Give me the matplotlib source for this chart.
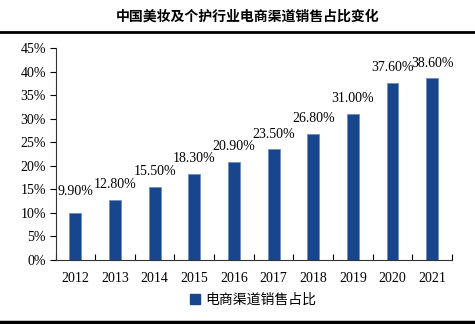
import matplotlib.pyplot as plt
from matplotlib.lines import Line2D
from matplotlib.patches import Patch

years = ['2012', '2013', '2014', '2015', '2016', '2017', '2018', '2019', '2020', '2021']
share = [9.9, 12.8, 15.5, 18.3, 20.9, 23.5, 26.8, 31.0, 37.6, 38.6]
yticks = [0, 5, 10, 15, 20, 25, 30, 35, 40, 45]

bar_color = '#17468C'
serif = ['Liberation Serif', 'DejaVu Serif']
cjk = ['Noto Sans CJK SC', 'DejaVu Sans']

fig = plt.figure(figsize=(4.75, 3.24), dpi=100)
W, H = 475, 324
ax = fig.add_axes([55.5 / W, 1 - 260 / H, (452 - 55.5) / W, (260 - 48) / H])

x = list(range(len(years)))
ax.bar(x, share, width=0.3, color=bar_color, edgecolor='#6f8fc0', linewidth=0.6)
for i, v in enumerate(share):
    off = 3.2 if i == 0 else 1.8
    ax.text(i, v + off, '%.2f%%' % v, ha='center', va='bottom', fontsize=10, family=serif)

ax.set_xlim(-0.5, len(years) - 0.5)
ax.set_ylim(0, 45)
ax.set_yticks(yticks)
ax.set_yticklabels(['%d%%' % t for t in yticks], family=serif, fontsize=10)
ax.set_xticks([i - 0.5 for i in range(len(years) + 1)])
ax.set_xticklabels([])
ax.set_xticks(x, minor=True)
ax.set_xticklabels(years, minor=True, family=serif, fontsize=10)
ax.tick_params(axis='x', which='major', direction='in', length=4, width=0.8)
ax.tick_params(axis='x', which='minor', length=0, pad=9)
ax.tick_params(axis='y', direction='out', length=4, width=0.8, pad=3)
for s in ['top', 'right']:
    ax.spines[s].set_visible(False)
ax.spines['left'].set_color('#333333')
ax.spines['bottom'].set_color('#333333')

fig.text(248 / W, 1 - 17 / H, '中国美妆及个护行业电商渠道销售占比变化', ha='center', va='center',
         fontsize=10, fontweight='bold', family=cjk)
fig.add_artist(Line2D([0, 1], [1 - 32 / H, 1 - 32 / H], color='black', linewidth=2))
fig.add_artist(Line2D([0, 1], [1 - 322 / H, 1 - 322 / H], color='black', linewidth=2.5))

handle = Patch(facecolor=bar_color, edgecolor=bar_color)
fig.legend([handle], ['电商渠道销售占比'], loc='center', bbox_to_anchor=(253 / W, 1 - 300 / H),
           frameon=False, prop={'family': cjk, 'size': 10}, handlelength=0.7, handleheight=0.7,
           handletextpad=0.4)

fig.savefig('out.png', dpi=100)
